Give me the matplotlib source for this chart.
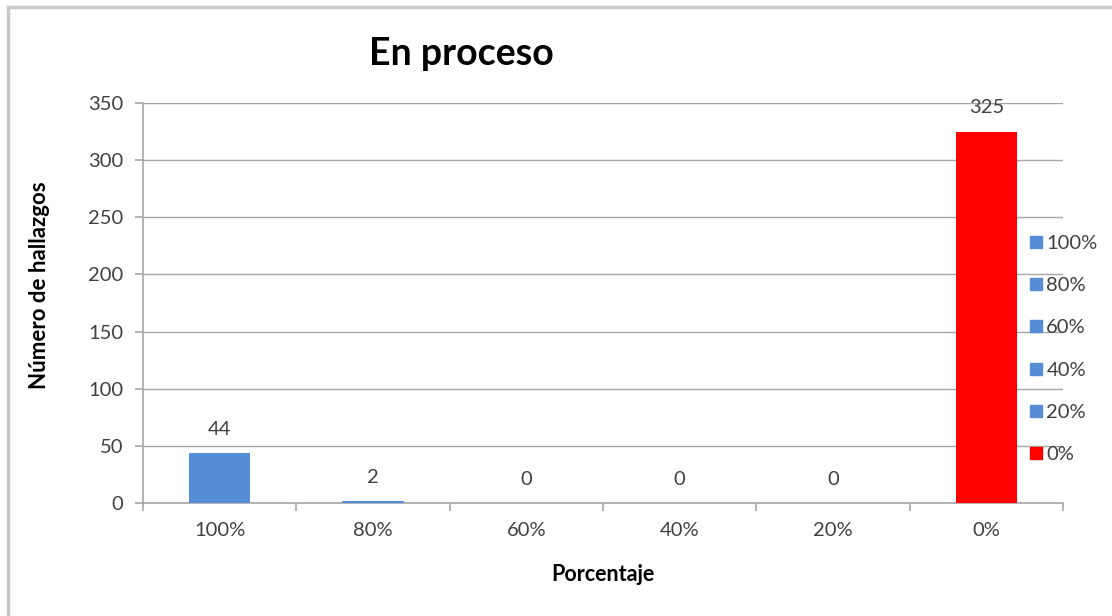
import matplotlib.pyplot as plt
from matplotlib.patches import Rectangle
from matplotlib.lines import Line2D
import numpy as np

categories = ["100%", "80%", "60%", "40%", "20%", "0%"]
hallazgos = [44, 2, 0, 0, 0, 325]
bar_colors = ["#558ED5", "#558ED5", "#558ED5", "#558ED5", "#558ED5", "#FF0000"]
y_ticks = [0, 50, 100, 150, 200, 250, 300, 350]

plt.rcParams['font.family'] = ['Lato', 'DejaVu Sans']
grey = "#A6A6A6"
text_col = "#404040"

fig = plt.figure(figsize=(11.12, 6.16), dpi=100)
ax = fig.add_axes([0.1286, 0.1834, 0.8273, 0.6494])

x = np.arange(len(categories))
ax.bar(x, hallazgos, width=0.4, color=bar_colors, zorder=3)
for xi, v in zip(x, hallazgos):
    ax.annotate(str(v), (xi, v), xytext=(0, 17), textcoords="offset points",
                ha="center", va="center", fontsize=14.5, color=text_col)

ax.set_xlim(-0.5, len(categories) - 0.5)
ax.set_ylim(0, 350)
ax.set_yticks(y_ticks)
ax.set_xticks(x)
ax.set_xticklabels(categories)
ax.set_xticks(np.arange(len(categories) + 1) - 0.5, minor=True)
ax.tick_params(axis="x", which="major", length=0, pad=14, labelsize=14.5, labelcolor=text_col)
ax.tick_params(axis="x", which="minor", length=6, color=grey, width=1.2)
ax.tick_params(axis="y", length=6, color=grey, width=1.2, pad=8, labelsize=14.5, labelcolor=text_col)
ax.grid(axis="y", color=grey, linewidth=1.0, zorder=0)
for side in ["top", "right"]:
    ax.spines[side].set_visible(False)
for side in ["left", "bottom"]:
    ax.spines[side].set_color(grey)
    ax.spines[side].set_linewidth(1.2)

ax.set_xlabel("Porcentaje", fontsize=15.5, fontweight="bold", labelpad=18)
ax.set_ylabel("Número de hallazgos", fontsize=16, fontweight="bold")
ax.yaxis.set_label_coords(-0.101, 0.545)
fig.text(0.415, 0.912, "En proceso", ha="center", va="center",
         fontsize=27, fontweight="bold", color="black")

handles = [Line2D([], [], marker="s", linestyle="none", markersize=8,
                  markerfacecolor=c, markeredgecolor=c) for c in bar_colors]
ax.legend(handles, categories, loc="center left", bbox_to_anchor=(0.96, 0.385),
          frameon=False, fontsize=14.5, labelspacing=1.25, handletextpad=0.0,
          handlelength=1.0, borderpad=0, borderaxespad=0, labelcolor=text_col)

# outer chart frame
fig.patches.append(Rectangle((8 / 1112, -0.1), 1.2, 1 - 7 / 616 + 0.1,
                             transform=fig.transFigure, fill=False,
                             edgecolor="#C8C8C8", linewidth=2.5))

fig.savefig("out.png", dpi=100)
